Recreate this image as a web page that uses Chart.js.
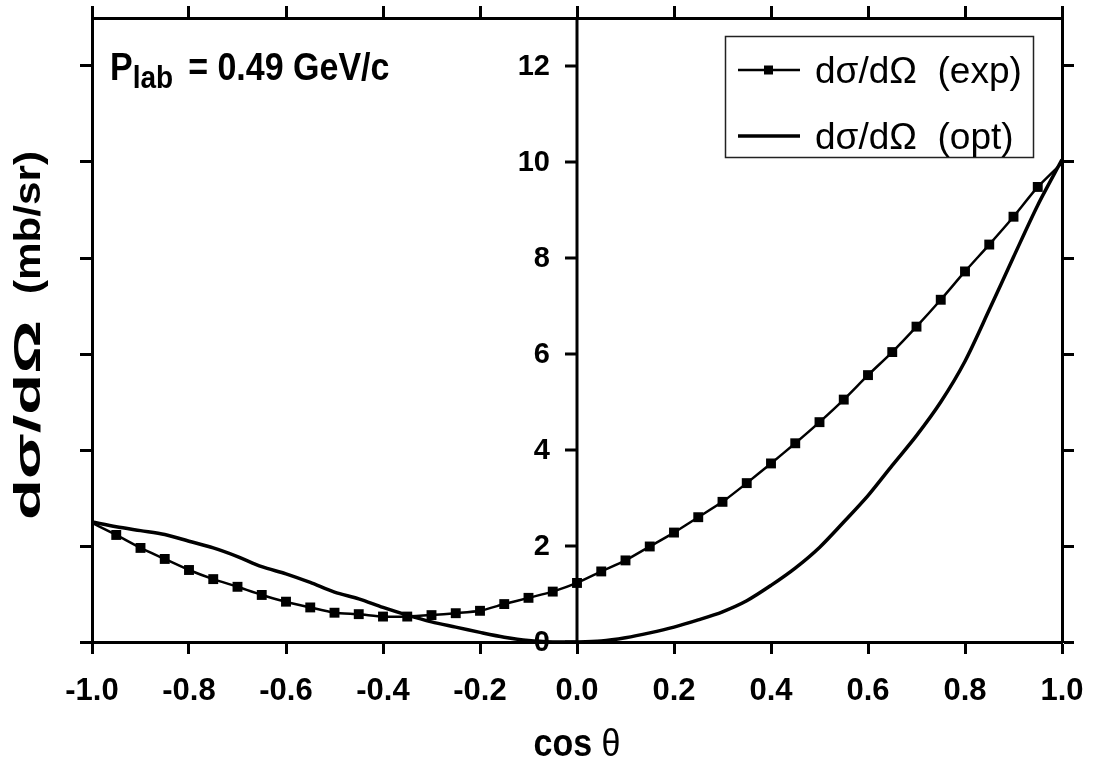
<!DOCTYPE html>
<html>
<head>
<meta charset="utf-8">
<title>dσ/dΩ vs cos θ</title>
<script src="https://cdn.jsdelivr.net/npm/chart.js@4.4.1/dist/chart.umd.min.js"></script>
<style>
  body { margin: 0; background: #fff; }
  #wrap { width: 1093px; height: 765px; position: relative; }
</style>
</head>
<body>
<div id="wrap"><canvas id="xsec-chart"></canvas></div>
<script>
const cosTheta = [-1.0, -0.95, -0.9, -0.85, -0.8, -0.75, -0.7, -0.65, -0.6, -0.55, -0.5,
  -0.45, -0.4, -0.35, -0.3, -0.25, -0.2, -0.15, -0.1, -0.05, 0.0,
  0.05, 0.1, 0.15, 0.2, 0.25, 0.3, 0.35, 0.4, 0.45, 0.5,
  0.55, 0.6, 0.65, 0.7, 0.75, 0.8, 0.85, 0.9, 0.95, 1.0];

// measured dσ/dΩ (mb/sr)
const sigmaExp = [2.48, 2.23, 1.96, 1.73, 1.50, 1.31, 1.15, 0.98, 0.84, 0.72, 0.61,
  0.58, 0.53, 0.53, 0.56, 0.60, 0.65, 0.79, 0.92, 1.05, 1.23,
  1.47, 1.70, 1.99, 2.28, 2.60, 2.92, 3.31, 3.72, 4.14, 4.58,
  5.05, 5.56, 6.04, 6.57, 7.13, 7.72, 8.28, 8.86, 9.48, 9.98];

// optical model dσ/dΩ (mb/sr)
const sigmaOpt = [2.50, 2.40, 2.32, 2.24, 2.10, 1.96, 1.78, 1.57, 1.42, 1.24, 1.04,
  0.90, 0.72, 0.56, 0.42, 0.31, 0.20, 0.10, 0.03, 0.00, 0.00,
  0.02, 0.09, 0.19, 0.31, 0.46, 0.63, 0.86, 1.18, 1.54, 1.97,
  2.50, 3.05, 3.68, 4.30, 5.00, 5.85, 6.92, 8.02, 9.10, 10.05];

const xTickValues = [-1.0, -0.8, -0.6, -0.4, -0.2, 0.0, 0.2, 0.4, 0.6, 0.8, 1.0];
const yTickValues = [0, 2, 4, 6, 8, 10, 12];

const FONT = '"Liberation Sans", Arial, sans-serif';

function setTicks(values) {
  return scale => { scale.ticks = values.map(v => ({ value: v })); };
}

// fixed axis sizes so the plot frame lands where the original is
function fixSize(size) {
  return scale => {
    if (scale.isHorizontal()) scale.height = size;
    else scale.width = size;
    scale.paddingLeft = 0;
    scale.paddingRight = 0;
    scale.paddingTop = 0;
    scale.paddingBottom = 0;
  };
}

function outerAxis(position, values, min, max, size) {
  return {
    type: 'linear',
    position: position,
    min: min,
    max: max,
    afterBuildTicks: setTicks(values),
    afterFit: fixSize(size),
    ticks: { display: false },
    grid: { drawOnChartArea: false, drawTicks: true, tickLength: 12, tickWidth: 3, tickColor: '#000' },
    border: { display: true, width: 3, color: '#000' }
  };
}

// draw text squeezed/stretched to a given box
function fitText(ctx, text, px, py, width, sy) {
  const w = ctx.measureText(text).width;
  ctx.save();
  ctx.translate(px, py);
  ctx.scale(width ? width / w : 1, sy || 1);
  ctx.fillText(text, 0, 0);
  ctx.restore();
}

const decorations = {
  id: 'decorations',
  afterDraw(chart) {
    const { ctx, chartArea: area, scales: { x, y } } = chart;
    const x0 = x.getPixelForValue(0);
    ctx.save();
    ctx.strokeStyle = '#000';
    ctx.fillStyle = '#000';

    // centre axis with its labels
    ctx.lineWidth = 3;
    ctx.beginPath();
    ctx.moveTo(x0, area.top);
    ctx.lineTo(x0, area.bottom);
    yTickValues.forEach(v => {
      const py = y.getPixelForValue(v);
      ctx.moveTo(x0 - 12, py);
      ctx.lineTo(x0, py);
    });
    ctx.stroke();
    ctx.font = 'bold 29px ' + FONT;
    ctx.textAlign = 'right';
    ctx.textBaseline = 'middle';
    yTickValues.forEach(v => ctx.fillText(String(v), x0 - 27, y.getPixelForValue(v) + 1));

    // P_lab annotation
    ctx.textAlign = 'left';
    ctx.textBaseline = 'alphabetic';
    let px = area.left + 18;
    const pyBase = area.top + 62;
    ctx.font = 'bold 34px ' + FONT;
    fitText(ctx, 'P', px, pyBase, 0, 1.15);
    px += ctx.measureText('P').width;
    ctx.font = 'bold 28px ' + FONT;
    fitText(ctx, 'lab', px, pyBase + 8, 0, 1.15);
    px += ctx.measureText('lab').width + 15;
    ctx.font = 'bold 34px ' + FONT;
    fitText(ctx, '= 0.49 GeV/c', px, pyBase, 0, 1.15);

    // legend
    const lx = area.right - 337;
    const ly = area.top + 18;
    ctx.lineWidth = 1.5;
    ctx.strokeStyle = '#222';
    ctx.strokeRect(lx + 0.5, ly + 0.5, 308, 121);
    ctx.strokeStyle = '#000';
    const rows = [
      { label: 'dσ/dΩ  (exp)', ds: chart.data.datasets[0], yy: ly + 34, base: ly + 47 },
      { label: 'dσ/dΩ  (opt)', ds: chart.data.datasets[1], yy: ly + 100, base: ly + 113 }
    ];
    rows.forEach(r => {
      ctx.lineWidth = r.ds.borderWidth;
      ctx.beginPath();
      ctx.moveTo(lx + 13, r.yy);
      ctx.lineTo(lx + 75, r.yy);
      ctx.stroke();
      if (r.ds.pointStyle === 'rect') ctx.fillRect(lx + 39, r.yy - 4.5, 9, 9);
      ctx.font = '37px ' + FONT;
      ctx.fillText(r.label, lx + 90, r.base);
    });

    // x axis title: "cos" bold, theta plain
    ctx.font = 'bold 34px ' + FONT;
    const wCos = ctx.measureText('cos ').width;
    ctx.font = '34px ' + FONT;
    const wTh = ctx.measureText('θ').width;
    const tx = (area.left + area.right) / 2 - (wCos + wTh) / 2;
    ctx.font = 'bold 34px ' + FONT;
    fitText(ctx, 'cos ', tx, 756, 0, 1.15);
    ctx.font = '34px ' + FONT;
    fitText(ctx, 'θ', tx + wCos, 756, 0, 1.15);

    // y axis title, rotated
    ctx.save();
    ctx.translate(40, 520);
    ctx.rotate(-Math.PI / 2);
    ctx.font = 'bold 36px ' + FONT;
    fitText(ctx, 'dσ/dΩ', 0, 0, 200, 1);
    fitText(ctx, '(mb/sr)', 226, 0, 143, 1);
    ctx.restore();

    ctx.restore();
  }
};

new Chart(document.getElementById('xsec-chart'), {
  type: 'line',
  data: {
    datasets: [{
      label: 'dσ/dΩ (exp)',
      data: cosTheta.map((c, i) => ({ x: c, y: sigmaExp[i] })),
      borderColor: '#000',
      backgroundColor: '#000',
      borderWidth: 2.5,
      pointStyle: 'rect',
      pointRadius: ctx => (ctx.dataIndex === 0 || ctx.dataIndex === cosTheta.length - 1) ? 0 : 7,
      pointBorderWidth: 0,
      pointBackgroundColor: '#000',
      tension: 0.2
    }, {
      label: 'dσ/dΩ (opt)',
      data: cosTheta.map((c, i) => ({ x: c, y: sigmaOpt[i] })),
      borderColor: '#000',
      borderWidth: 3.5,
      pointRadius: 0,
      tension: 0.3
    }]
  },
  options: {
    responsive: true,
    maintainAspectRatio: false,
    animation: false,
    devicePixelRatio: 1,
    layout: { padding: 0 },
    plugins: {
      legend: { display: false },
      tooltip: { enabled: false }
    },
    scales: {
      x: {
        type: 'linear',
        position: 'bottom',
        min: -1,
        max: 1,
        afterBuildTicks: setTicks(xTickValues),
        afterFit: fixSize(123),
        ticks: {
          autoSkip: false,
          maxRotation: 0,
          padding: 19,
          color: '#000',
          font: { family: FONT, size: 31, weight: 'bold' },
          callback: v => v.toFixed(1)
        },
        grid: { drawOnChartArea: false, drawTicks: true, tickLength: 12, tickWidth: 3, tickColor: '#000' },
        border: { display: true, width: 3, color: '#000' }
      },
      xTop: outerAxis('top', xTickValues, -1, 1, 18),
      y: outerAxis('left', yTickValues, 0, 13, 92),
      yRight: outerAxis('right', yTickValues, 0, 13, 31)
    }
  },
  plugins: [decorations]
});
</script>
</body>
</html>
